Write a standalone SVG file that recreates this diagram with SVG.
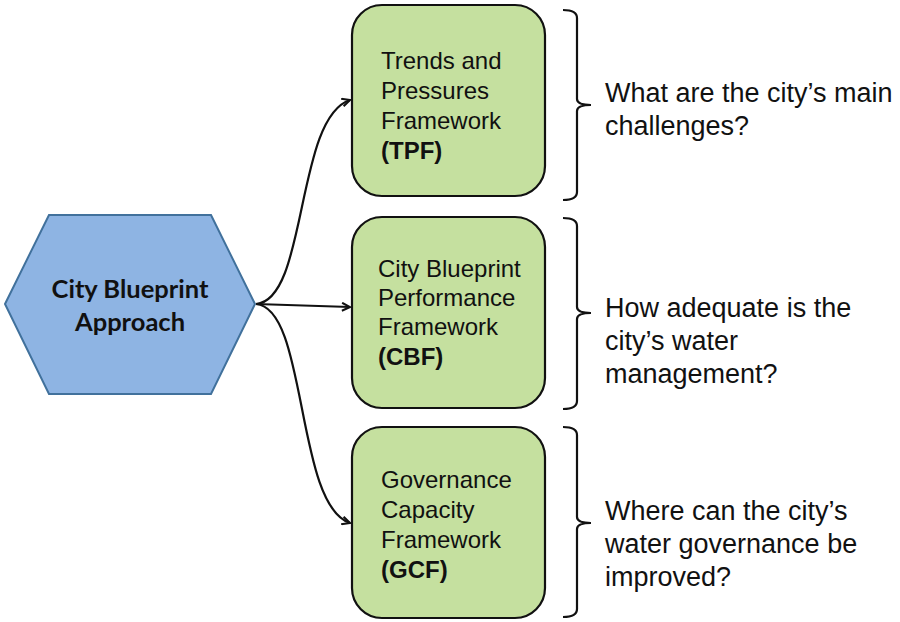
<svg xmlns="http://www.w3.org/2000/svg" width="900" height="622" viewBox="0 0 900 622">
<defs>
<style>
.hex{fill:#8eb4e3;stroke:#41719c;stroke-width:2}
.box{fill:#c5e09f;stroke:#111;stroke-width:2.2}
.bt{font-family:"Liberation Sans",Arial,sans-serif;font-size:24px;fill:#111}
.bb{font-weight:bold}
.ht{font-family:Lato,"Liberation Sans",sans-serif;font-weight:bold;font-size:25.5px;fill:#111;text-anchor:middle}
.qt{font-family:"Liberation Sans",Arial,sans-serif;font-size:27px;fill:#111}
.con{fill:none;stroke:#111;stroke-width:2.2}
.br{fill:none;stroke:#111;stroke-width:2.2}
</style>
<marker id="arr" viewBox="0 0 10 10" refX="9" refY="5" markerWidth="10" markerHeight="10" markerUnits="userSpaceOnUse" orient="auto">
<path d="M1,1 L9,5 L1,9" fill="none" stroke="#111" stroke-width="2"/>
</marker>
</defs>
<rect width="900" height="622" fill="#fff"/>
<g id="connectors">
<path class="con" d="M256,304 C308,300 295,118 350,100" marker-end="url(#arr)"/>
<path class="con" d="M256,304 L350,307" marker-end="url(#arr)"/>
<path class="con" d="M256,304 C308,308 295,505 350,523" marker-end="url(#arr)"/>
</g>
<g id="hexagon">
<polygon class="hex" points="5,304 49,215 211,215 255,304 211,394 49,394"/>
<text class="ht" x="130" y="298">City Blueprint</text>
<text class="ht" x="130" y="331">Approach</text>
</g>
<g id="tpf">
<rect class="box" x="352" y="5" width="193" height="191" rx="30"/>
<text class="bt" x="381" y="69">Trends and</text>
<text class="bt" x="381" y="99">Pressures</text>
<text class="bt" x="381" y="129">Framework</text>
<text class="bt bb" x="381" y="159">(TPF)</text>
</g>
<g id="cbf">
<rect class="box" x="352" y="217" width="193" height="191" rx="30"/>
<text class="bt" x="378" y="277">City Blueprint</text>
<text class="bt" x="378" y="306">Performance</text>
<text class="bt" x="378" y="335">Framework</text>
<text class="bt bb" x="378" y="365">(CBF)</text>
</g>
<g id="gcf">
<rect class="box" x="352" y="427" width="193" height="191" rx="30"/>
<text class="bt" x="381" y="488">Governance</text>
<text class="bt" x="381" y="518">Capacity</text>
<text class="bt" x="381" y="548">Framework</text>
<text class="bt bb" x="381" y="578">(GCF)</text>
</g>
<g id="q1">
<path class="br" d="M563,10 Q577,10 577,18 V99 Q577,105 591,105 Q577,105 577,111 V192 Q577,200 563,200"/>
<text class="qt" x="605" y="102">What are the city’s main</text>
<text class="qt" x="605" y="135">challenges?</text>
</g>
<g id="q2">
<path class="br" d="M563,218 Q577,218 577,226 V307 Q577,313 591,313 Q577,313 577,319 V401 Q577,409 563,409"/>
<text class="qt" x="605" y="317">How adequate is the</text>
<text class="qt" x="605" y="350">city’s water</text>
<text class="qt" x="605" y="383">management?</text>
</g>
<g id="q3">
<path class="br" d="M563,427 Q577,427 577,435 V517 Q577,523 591,523 Q577,523 577,529 V609 Q577,617 563,617"/>
<text class="qt" x="605" y="520">Where can the city’s</text>
<text class="qt" x="605" y="553">water governance be</text>
<text class="qt" x="605" y="586">improved?</text>
</g>
</svg>
